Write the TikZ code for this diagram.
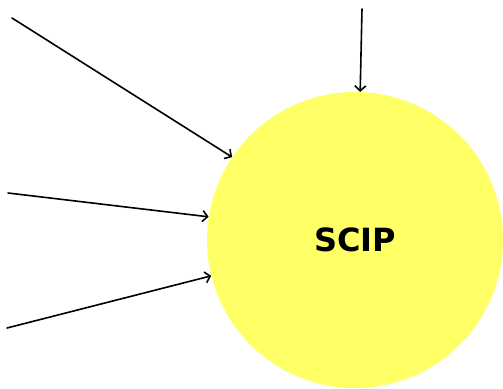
\documentclass[tikz,border=0pt]{standalone}
\usepackage{fontspec}
\usetikzlibrary{arrows.meta}
\setmainfont{DejaVu Sans}
\definecolor{scipyellow}{HTML}{FFFF66}
\begin{document}
\begin{tikzpicture}[x=1pt, y=-1pt, line join = round, line cap = round]
\useasboundingbox (0,0) rectangle (503,388);
\node [circle, fill=scipyellow, minimum size=296pt, inner sep=0pt] (scip) at (355,240) {};
\node [font=\bfseries\fontsize{32}{32}\selectfont] (label) at (scip.center) {SCIP};

\coordinate [] (A) at (12,18);
\coordinate [] (B) at (8,193);
\coordinate [] (C) at (7,328);
\coordinate [] (D) at (362,9);

\foreach \i/\a in {A/146.8, B/171.9, C/194, D/88}
    \draw[-{Straight Barb[length=5pt, width=11pt]}, line width=1.6pt] (\i) -- (scip.\a);
\end{tikzpicture}
\end{document}
